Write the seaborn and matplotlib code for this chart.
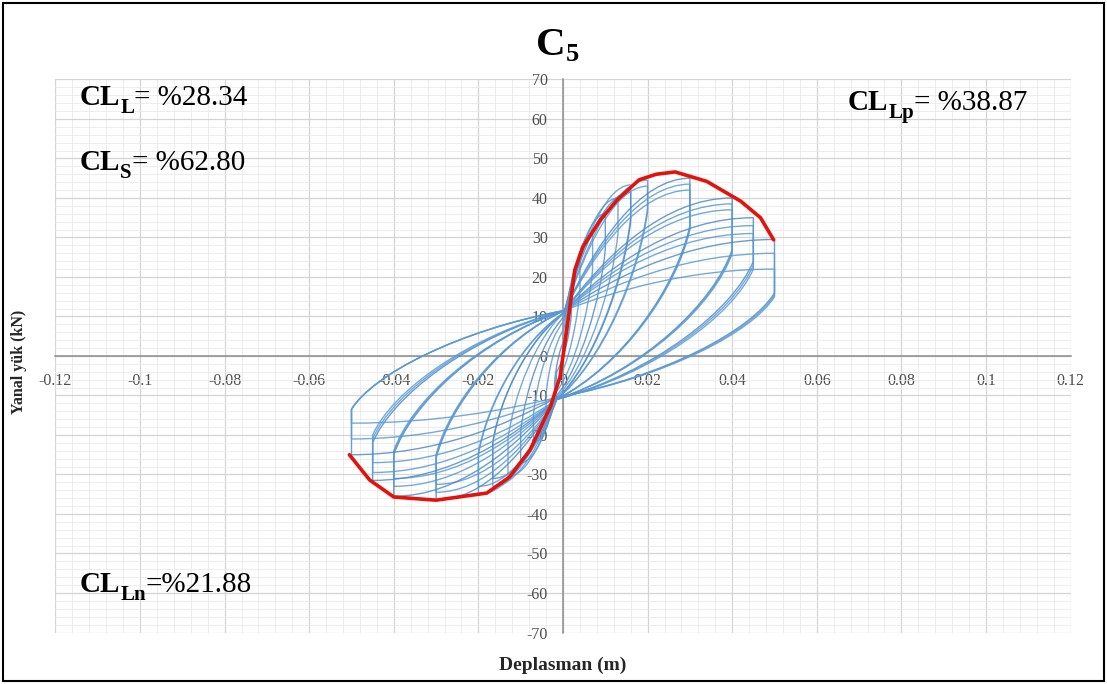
import matplotlib
matplotlib.use("Agg")
import matplotlib.pyplot as plt
import seaborn as sns
from matplotlib.path import Path
from matplotlib.patches import PathPatch, Rectangle
from matplotlib.ticker import MultipleLocator, FixedLocator, FixedFormatter

# ---- cyclic test data: one entry per loading cycle ----
# positive excursion: target displacement (m), peak load (kN), load after the hold drop (kN)
pos_disp = [0.002, 0.004, 0.007, 0.010, 0.013, 0.016, 0.016, 0.020, 0.020,
            0.030, 0.030, 0.030, 0.040, 0.040, 0.040, 0.045, 0.045, 0.045,
            0.050, 0.050, 0.050]
pos_peak = [15, 24, 31, 36, 40, 43.3, 41.5, 44.5, 43,
            45, 43.5, 42, 40, 38.5, 37, 35, 33, 31,
            29.5, 26, 22]
pos_drop = [11, 17, 22, 27, 31, 35, 34, 37.5, 36.5,
            33, 32.5, 32, 27, 26.5, 26, 24, 23, 22,
            16, 15.5, 15]
# negative excursion: target displacement (m), peak load (kN), load after the hold rise (kN)
neg_disp = [-0.002, -0.004, -0.007, -0.010, -0.013, -0.0166, -0.0166, -0.020, -0.020,
            -0.030, -0.030, -0.030, -0.040, -0.040, -0.040, -0.045, -0.045, -0.045,
            -0.050, -0.050, -0.050]
neg_peak = [-10, -15, -22, -27, -30.5, -33, -31, -35, -33,
            -36.5, -34.5, -32.5, -35.5, -33, -31, -31.5, -29.5, -27,
            -25, -21, -17]
neg_rise = [-7, -10, -15, -19, -21, -22, -22, -25, -24.5,
            -26, -25.5, -25, -25, -24.5, -24, -22, -21, -20,
            -13.5, -13.5, -13.5]
# pinching points where the branches cross the load axis
pinch_up = [4, 7, 9, 10, 11, 11, 11, 11, 11,
            11.5, 11.5, 11.5, 11.5, 11.5, 11.5, 11.5, 11.5, 11.5,
            11.5, 11.5, 11.5]
pinch_lo = [-4, -7, -9, -10, -10.5, -11, -11, -11, -11,
            -11, -11, -11, -11, -11, -11, -11, -11, -11,
            -10.5, -10.5, -10.5]
pinch_up_x = 0.0003
pinch_lo_x = -0.0015

# envelope (backbone) curve
env_x = [-0.0505, -0.0457, -0.040, -0.030, -0.018, -0.0126, -0.0078, -0.003,
         -0.0007, 0.0012, 0.0028, 0.0047, 0.0088, 0.0128, 0.018, 0.022,
         0.0265, 0.034, 0.042, 0.0467, 0.0498]
env_y = [-25, -31.4, -35.7, -36.5, -34.7, -30.6, -23.8, -12.9,
         -5.3, 9, 21.8, 27.6, 34.4, 39.5, 44.6, 46.0,
         46.6, 44.2, 39.2, 35, 29.4]

x_ticks = [-0.12, -0.10, -0.08, -0.06, -0.04, -0.02, 0, 0.02, 0.04, 0.06, 0.08, 0.10, 0.12]
x_tick_labels = ["-0.12", "-0.1", "-0.08", "-0.06", "-0.04", "-0.02", "0",
                 "0.02", "0.04", "0.06", "0.08", "0.1", "0.12"]
y_ticks = [-70, -60, -50, -40, -30, -20, -10, 0, 10, 20, 30, 40, 50, 60, 70]
y_tick_labels = [str(v) for v in y_ticks]

# ratio annotations: (main, subscript, rest)
ratio_notes = [("CL", "L", "= %28.34"),
               ("CL", "S", "= %62.80"),
               ("CL", "Lp", "= %38.87"),
               ("CL", "Ln", "=%21.88")]

sns.set_theme(style="whitegrid")
plt.rcParams["font.family"] = ["Liberation Serif", "DejaVu Serif"]

W, H = 1107, 684
fig = plt.figure(figsize=(W / 100, H / 100), dpi=100)
fig.patch.set_facecolor("white")
ax = fig.add_axes([0.05005, 0.07529, 0.91705, 0.80851])
ax.set_facecolor("white")


def bezier(p0, p3, c1f, c2f):
    x0, y0 = p0
    x3, y3 = p3
    dx, dy = x3 - x0, y3 - y0
    return [(x0 + c1f[0] * dx, y0 + c1f[1] * dy),
            (x0 + c2f[0] * dx, y0 + c2f[1] * dy),
            p3]


RELOAD = ((0.25, 0.5), (0.6, 1.0))
UNLOAD = ((0.1, 0.35), (0.5, 0.8))
C4 = [Path.CURVE4] * 3

for i in range(len(pos_disp)):
    up = (pinch_up_x, pinch_up[i])
    lo = (pinch_lo_x, pinch_lo[i])
    pk = (pos_disp[i], pos_peak[i])
    pd_ = (pos_disp[i], pos_drop[i])
    nk = (neg_disp[i], neg_peak[i])
    nr = (neg_disp[i], neg_rise[i])
    verts = [up]
    codes = [Path.MOVETO]
    verts += bezier(up, pk, *RELOAD); codes += C4
    verts += [pd_]; codes += [Path.LINETO]
    verts += bezier(pd_, lo, *UNLOAD); codes += C4
    verts += bezier(lo, nk, *RELOAD); codes += C4
    verts += [nr]; codes += [Path.LINETO]
    verts += bezier(nr, up, *UNLOAD); codes += C4
    shade = "#5B9BD5" if i % 3 else "#4F8CC9"
    ax.add_patch(PathPatch(Path(verts, codes), facecolor="none", edgecolor=shade,
                           lw=1.0, alpha=0.85, zorder=3))

sns.lineplot(x=env_x, y=env_y, sort=False, estimator=None, color="#E3120B",
             lw=2.6, ax=ax, zorder=5)

ax.set_xlim(-0.12, 0.12)
ax.set_ylim(-70, 70)
ax.xaxis.set_major_locator(FixedLocator(x_ticks))
ax.xaxis.set_major_formatter(FixedFormatter(x_tick_labels))
ax.yaxis.set_major_locator(FixedLocator(y_ticks))
ax.yaxis.set_major_formatter(FixedFormatter(y_tick_labels))
ax.xaxis.set_minor_locator(MultipleLocator(0.004))
ax.yaxis.set_minor_locator(MultipleLocator(2))

ax.set_axisbelow(True)
ax.grid(True, which="major", color="#D4D4D4", lw=0.9)
ax.grid(True, which="minor", color="#EAEAEA", lw=0.6)

for side in ("top", "right"):
    ax.spines[side].set_visible(False)
ax.spines["left"].set_position(("data", 0))
ax.spines["bottom"].set_position(("data", 0))
for side in ("left", "bottom"):
    ax.spines[side].set_color("#8C8C8C")
    ax.spines[side].set_linewidth(1.1)
    ax.spines[side].set_zorder(2)

ax.tick_params(axis="both", which="both", length=0, labelsize=11.5, labelcolor="#4D4D4D")
ax.tick_params(axis="y", pad=11)
ax.tick_params(axis="x", pad=12)
ax.set_xlabel("")
ax.set_ylabel("")

fig.text(563 / W, 1 - 665 / H, "Deplasman (m)", ha="center", va="center",
         fontsize=14, fontweight="bold", color="#262626")
fig.text(19 / W, 1 - 362 / H, "Yanal yük (kN)", ha="center", va="center",
         rotation=90, fontsize=11.5, fontweight="bold", color="#262626")

renderer = fig.canvas.get_renderer()


def chained_text(x_px, base_px, pieces):
    """Place text pieces one after another along a line; each piece is
    (string, size, weight, downward baseline shift in px)."""
    x = x_px
    for s, size, weight, shift in pieces:
        t = fig.text(x / W, 1 - (base_px + shift) / H, s, fontsize=size,
                     fontweight=weight, va="baseline", ha="left", color="black")
        x = t.get_window_extent(renderer).x1


# title C with subscript 5
chained_text(536, 55, [("C", 29.5, "bold", 0), ("5", 19, "bold", 6)])

note_pos = [(80, 105), (80, 170), (848, 110), (80, 592)]
for (main, sub, rest), (nx, ny) in zip(ratio_notes, note_pos):
    chained_text(nx, ny, [(main, 21, "bold", 0), (sub, 15, "bold", 8),
                          (rest, 21, "normal", 0)])

fig.add_artist(Rectangle((0.003, 0.005), 0.994, 0.99, transform=fig.transFigure,
                         fill=False, lw=1.5, ec="black"))

fig.savefig("out.png", dpi=100)
